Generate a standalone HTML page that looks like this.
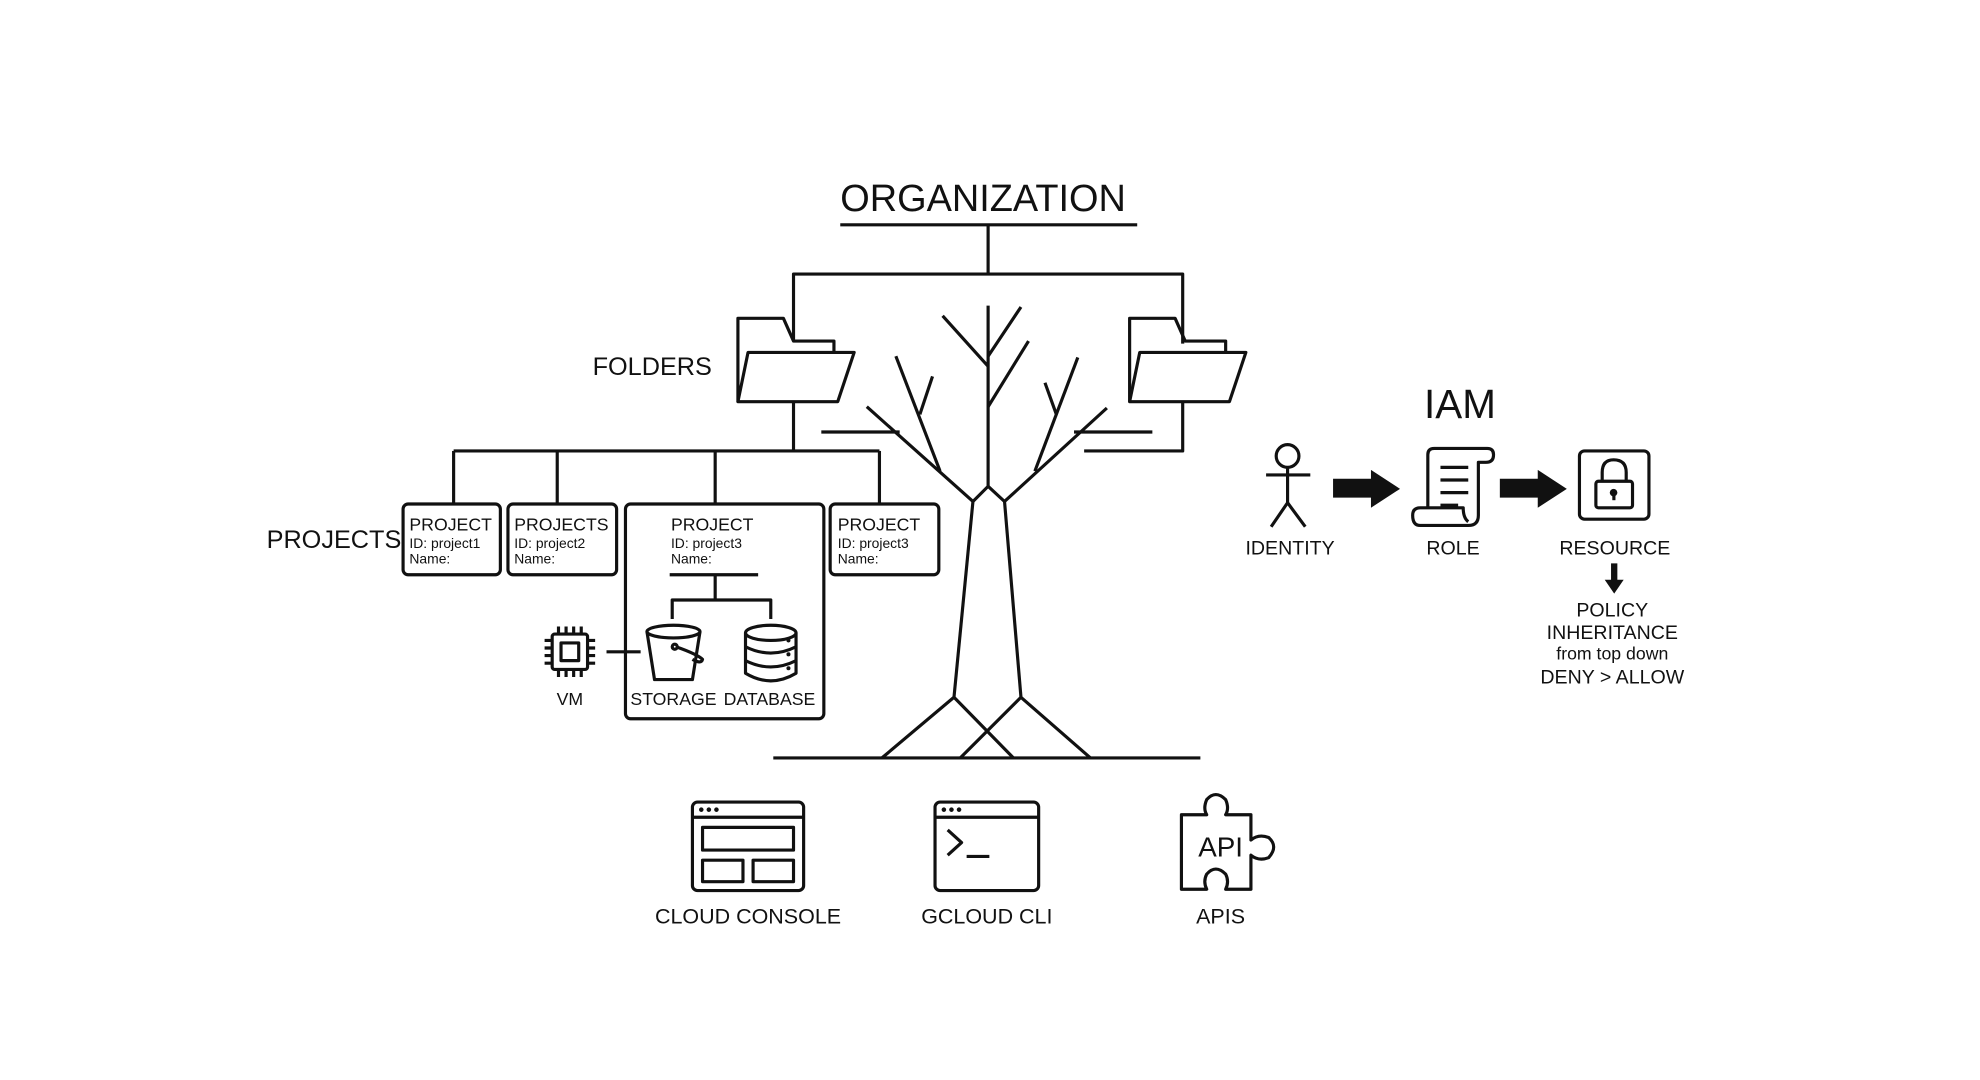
<!DOCTYPE html>
<html><head><meta charset="utf-8"><style>
html,body{margin:0;padding:0;background:#fff;}
svg{display:block;}
text{font-family:"Liberation Sans",sans-serif;fill:#111;}
</style></head><body>
<svg width="1980" height="1080" viewBox="0 0 1567 855" preserveAspectRatio="none" xmlns="http://www.w3.org/2000/svg">
<rect width="1567" height="855" fill="#fff"/>
<g fill="none" stroke="#111" stroke-width="2.5" stroke-linejoin="round">
<line x1="665" y1="178" x2="900" y2="178"/>
<line x1="782" y1="178" x2="782" y2="217"/>
<polyline points="628,270 628,217 936,217 936,272"/>
<path d="M584,318 V252 H620 L628,270 H660 V279"/>
<path d="M592,279 H676 L663,318 H584 Z"/>
<path d="M894,318 V252 H930 L938,270 H970 V279"/>
<path d="M902,279 H986 L973,318 H894 Z"/>
<line x1="628" y1="318" x2="628" y2="357"/>
<polyline points="936,318 936,357 858,357"/>
<line x1="359" y1="357" x2="696" y2="357"/>
<line x1="359" y1="357" x2="359" y2="399"/>
<line x1="441" y1="357" x2="441" y2="399"/>
<line x1="566" y1="357" x2="566" y2="399"/>
<line x1="696" y1="357" x2="696" y2="399"/>
<line x1="782" y1="242" x2="782" y2="385"/>
<line x1="746" y1="250" x2="782" y2="290"/>
<line x1="808" y1="243" x2="782" y2="282"/>
<line x1="814" y1="270" x2="782" y2="322"/>
<polyline points="686,322 770,397 782,385 795,397 876,323"/>
<line x1="744" y1="373" x2="709" y2="282"/>
<line x1="728" y1="328" x2="738" y2="298"/>
<line x1="819" y1="373" x2="853" y2="283"/>
<line x1="836" y1="328" x2="827" y2="303"/>
<line x1="650" y1="342" x2="712" y2="342"/>
<line x1="850" y1="342" x2="912" y2="342"/>
<line x1="770" y1="397" x2="755" y2="552"/>
<line x1="795" y1="397" x2="808" y2="552"/>
<polyline points="698,600 755,552 802,600"/>
<polyline points="760,600 808,552 863,600"/>
<line x1="612" y1="600" x2="950" y2="600"/>
<rect x="319" y="399" width="77" height="56" rx="4"/>
<rect x="402" y="399" width="86" height="56" rx="4"/>
<rect x="495" y="399" width="157" height="170" rx="4"/>
<rect x="657" y="399" width="86" height="56" rx="4"/>
<line x1="530" y1="455" x2="600" y2="455"/>
<line x1="566" y1="455" x2="566" y2="475"/>
<polyline points="532,490 532,475 610,475 610,490"/>
<ellipse cx="533" cy="500" rx="21" ry="5"/>
<path d="M512,500 L518,538 H548 L554,500"/>
<path d="M535,512 Q552,518 556,522 Q555,526 548,522"/>
<circle cx="534" cy="512" r="2"/>
<ellipse cx="610" cy="501" rx="20" ry="6"/>
<path d="M590,501 V533 Q610,545 630,533 V501"/>
<path d="M590,512 Q610,522 630,512"/>
<path d="M590,523 Q610,533 630,523"/>
<rect x="437" y="502" width="28" height="28" rx="2"/>
<rect x="444" y="509" width="14" height="14"/>
<path d="M442,502v-6M448,502v-6M454,502v-6M460,502v-6M442,530v6M448,530v6M454,530v6M460,530v6M437,507h-6M437,513h-6M437,519h-6M437,525h-6M465,507h6M465,513h6M465,519h6M465,525h6"/>
<line x1="480" y1="516" x2="507" y2="516"/>
<circle cx="1019" cy="361" r="9"/>
<line x1="1019" y1="370" x2="1019" y2="398"/>
<line x1="1002" y1="376" x2="1037" y2="376"/>
<polyline points="1006,417 1019,398 1033,417"/>
<path d="M1130,402 V360 Q1130,355 1135,355 H1177 Q1182,355 1182,360 Q1182,366 1176,366 H1170 V408 Q1170,416 1162,416 H1124 Q1118,416 1118,408 Q1118,402 1124,402 H1158 Q1158,410 1162,413"/>
<path d="M1140,370h22M1140,380h22M1140,390h22M1140,400h14"/>
<rect x="1250" y="357" width="55" height="54" rx="4"/>
<rect x="1263" y="381" width="29" height="21" rx="2"/>
<path d="M1268,381 V374 Q1268,364 1277,364 Q1287,364 1287,374 V381"/>
<rect x="548" y="635" width="88" height="70" rx="4"/>
<line x1="548" y1="647" x2="636" y2="647"/>
<rect x="556" y="655" width="72" height="18"/>
<rect x="556" y="681" width="32" height="17"/>
<rect x="596" y="681" width="32" height="17"/>
<rect x="740" y="635" width="82" height="70" rx="4"/>
<line x1="740" y1="647" x2="822" y2="647"/>
<polyline points="750,657 761,667 750,677"/>
<line x1="765" y1="678" x2="783" y2="678"/>
<path d="M935,645 H955 Q952,640 955,633 Q962,625 970,633 Q973,640 970,645 H990 V665 Q996,660 1004,663 Q1012,670 1004,679 Q996,682 990,677 V704 H970 Q973,698 970,692 Q962,684 955,692 Q952,698 955,704 H935 Z"/>
</g>
<g fill="#111">
<circle cx="555" cy="641" r="1.8"/><circle cx="561" cy="641" r="1.8"/><circle cx="567" cy="641" r="1.8"/>
<circle cx="747" cy="641" r="1.8"/><circle cx="753" cy="641" r="1.8"/><circle cx="759" cy="641" r="1.8"/>
<circle cx="624" cy="507" r="1.6"/><circle cx="624" cy="518" r="1.6"/><circle cx="624" cy="529" r="1.6"/>
<circle cx="1277" cy="390" r="3"/><rect x="1276" y="390" width="2.5" height="6"/>
<polygon points="1055,379 1085,379 1085,372 1108,387 1085,402 1085,394 1055,394"/>
<polygon points="1187,379 1217,379 1217,372 1240,387 1217,402 1217,394 1187,394"/>
<polygon points="1275,446 1280,446 1280,459 1285,459 1277.5,470 1270,459 1275,459"/>
</g>
<text x="665" y="167" font-size="30">ORGANIZATION</text>
<text x="469" y="297" font-size="20">FOLDERS</text>
<text x="211" y="434" font-size="20">PROJECTS</text>
<g font-size="14">
<text x="324" y="420">PROJECT</text>
<text x="407" y="420">PROJECTS</text>
<text x="531" y="420">PROJECT</text>
<text x="663" y="420">PROJECT</text>
</g>
<g font-size="11">
<text x="324" y="434">ID: project1</text><text x="324" y="446">Name:</text>
<text x="407" y="434">ID: project2</text><text x="407" y="446">Name:</text>
<text x="531" y="434">ID: project3</text><text x="531" y="446">Name:</text>
<text x="663" y="434">ID: project3</text><text x="663" y="446">Name:</text>
</g>
<g font-size="14" text-anchor="middle">
<text x="533" y="558">STORAGE</text>
<text x="609" y="558">DATABASE</text>
<text x="451" y="558">VM</text>
</g>
<text x="1127" y="331" font-size="32">IAM</text>
<g font-size="15.5" text-anchor="middle">
<text x="1021" y="439">IDENTITY</text>
<text x="1150" y="439">ROLE</text>
<text x="1278" y="439">RESOURCE</text>
<text x="1276" y="488">POLICY</text>
<text x="1276" y="506">INHERITANCE</text>
<text x="1276" y="522" font-size="14">from top down</text>
<text x="1276" y="541">DENY &gt; ALLOW</text>
</g>
<text x="966" y="678" font-size="22" font-family="Liberation Mono" text-anchor="middle">API</text>
<g font-size="17" text-anchor="middle">
<text x="592" y="731">CLOUD CONSOLE</text>
<text x="781" y="731">GCLOUD CLI</text>
<text x="966" y="731">APIS</text>
</g>
</svg>
</body></html>
